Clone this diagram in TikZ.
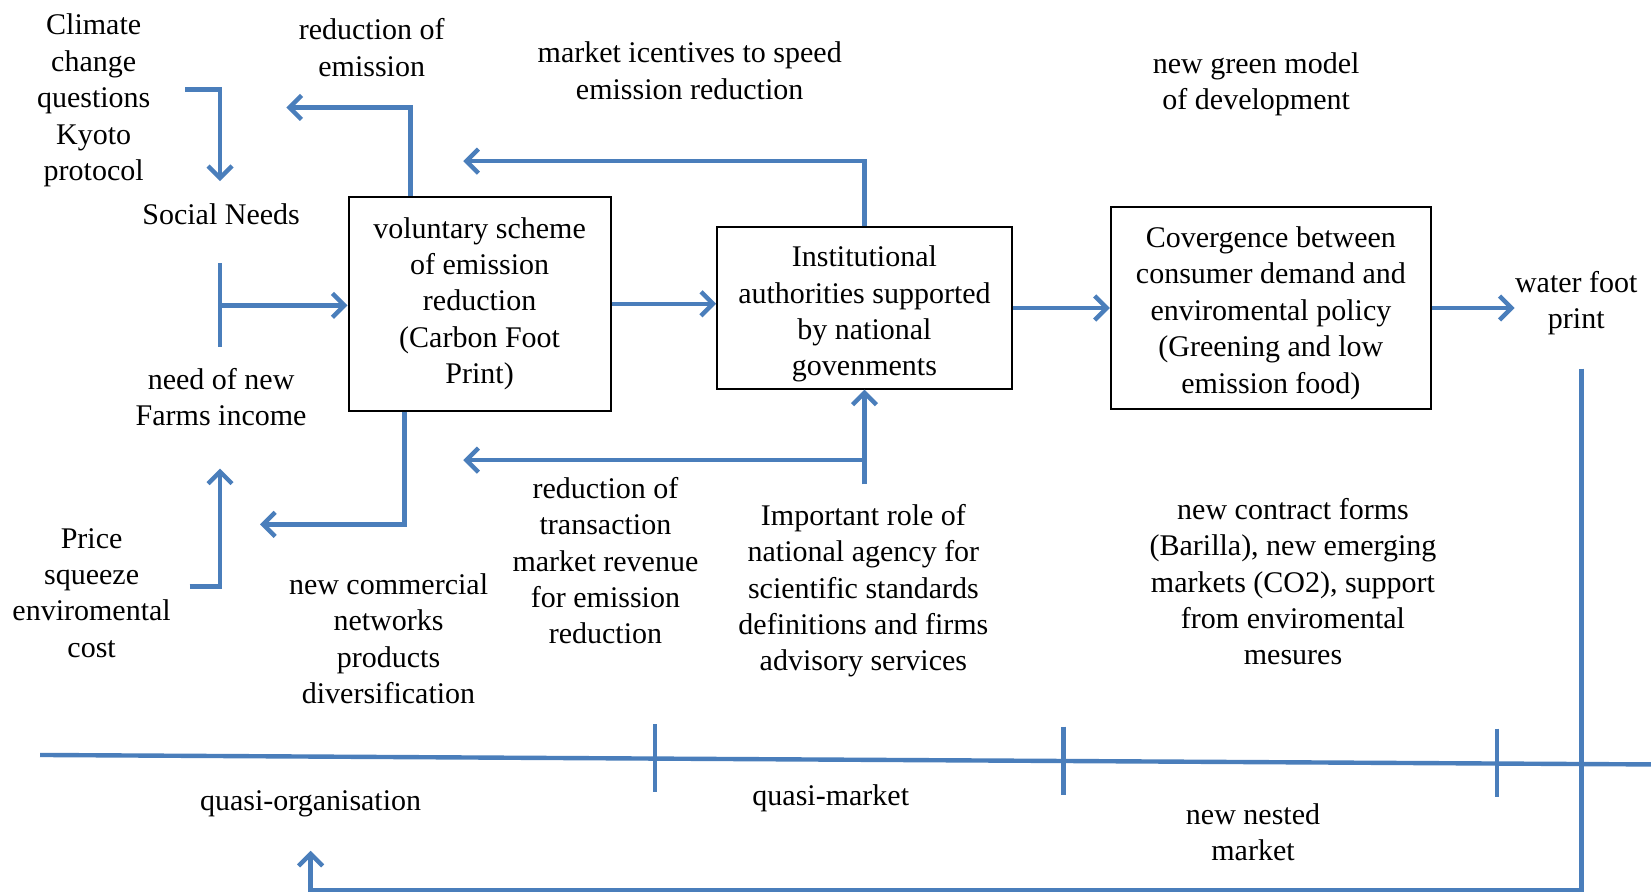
\documentclass[tikz,border=0pt]{standalone}
\usepackage{fontspec}
\setmainfont{Liberation Serif}
\usetikzlibrary{arrows.meta}
\definecolor{flowblue}{RGB}{74,126,187}
\newcommand\diagfont{\fontsize{15}{18.2}\selectfont}
\tikzset{
  flow/.style={draw=flowblue, line width=2.2pt, -{Straight Barb[length=6pt,width=12pt]}},
  bar/.style={draw=flowblue, line width=2.2pt},
  lbl/.style={align=center, font=\diagfont, inner sep=0pt},
  box/.style={draw, line width=1pt, align=center, inner sep=0pt, font=\diagfont}
}
\begin{document}
\begin{tikzpicture}[x=0.5265pt, y=-0.5265pt]
\useasboundingbox[fill=white] (0,0) rectangle (1568,848);

% text labels
\node[lbl] (climate) at (89,95.5) {Climate\\change\\questions\\Kyoto\\protocol};
\node[lbl] (social) at (210,203) {Social Needs};
\node[lbl] (redem) at (353,45) {reduction of\\emission};
\node[lbl] (market) at (655,67) {market icentives to speed\\emission reduction};
\node[lbl] (green) at (1193,80) {new green model\\of development};
\node[lbl] (water) at (1497,288) {water foot\\print};
\node[lbl] (need) at (210,377) {need of new\\Farms income};
\node[lbl] (transaction) at (575,532.5) {reduction of\\transaction\\market revenue\\for emission\\reduction};
\node[lbl] (role) at (820,561) {Important role of\\national agency for\\scientific standards\\definitions and firms\\advisory services};
\node[lbl] (contract) at (1228,552.5) {new contract forms\\(Barilla), new emerging\\markets (CO2), support\\from enviromental\\mesures};
\node[lbl] (price) at (87,563) {Price\\squeeze\\enviromental\\cost};
\node[lbl] (commercial) at (369,606.5) {new commercial\\networks\\products\\diversification};
\node[lbl] (qorg) at (295,763) {quasi-organisation};
\node[lbl] (qmkt) at (789,758) {quasi-market};
\node[lbl] (nested) at (1190,790.5) {new nested\\market};

% boxes
\node[box, minimum width=131.1pt, minimum height=106.9pt] (box1) at (455.5,288.5)
  {voluntary scheme\\of emission\\reduction\\(Carbon Foot\\Print)};
\node[box, minimum width=147.4pt, minimum height=80.6pt] (box2) at (821,292.5)
  {\rule{0pt}{16.5pt}Institutional\\authorities supported\\by national\\govenments};
\node[box, minimum width=160.1pt, minimum height=100.6pt] (box3) at (1207,292.5)
  {\rule{0pt}{15.5pt}Covergence between\\consumer demand and\\enviromental policy\\(Greening and low\\emission food)};

% coordinates
\coordinate (c1) at (176,85);
\coordinate (c1t) at (209,172);
\coordinate (e1) at (390,102);
\coordinate (e1t) at (272,102);
\coordinate (m1) at (821,153);
\coordinate (m1t) at (440,153);
\coordinate (b1) at (209,250);
\coordinate (b2) at (209,330);
\coordinate (b3) at (209,290);
\coordinate (d1) at (384,498);
\coordinate (d1t) at (247,498);
\coordinate (r0) at (821,460);
\coordinate (r1) at (821,437);
\coordinate (r1t) at (440,437);
\coordinate (p0) at (180,557);
\coordinate (p1) at (209,445);
\coordinate (t0) at (38,717);
\coordinate (t1) at (1568,726);
\coordinate (w0) at (1502,350);
\coordinate (w1) at (1502,845.5);
\coordinate (w2) at (295,808);

% connectors
\draw[flow] (c1) -| (c1t);
\draw[flow] (box1.north -| e1) -- (e1) -- (e1t);
\draw[flow] (box2.north) -- (m1) -- (m1t);
\draw[bar] (b1) -- (b2);
\draw[flow] (b3) -- (b3 -| box1.west);
\draw[flow] (box1.east) -- (box1.east -| box2.west);
\draw[flow] (box2.east) -- (box2.east -| box3.west);
\draw[flow] (box3.east) -- (box3.east -| water.west);
\draw[flow] (box1.south -| d1) -- (d1) -- (d1t);
\draw[flow] (r0) -- (box2.south);
\draw[flow] (r1) -- (r1t);
\draw[flow] (p0) -| (p1);

% timeline
\draw[bar] (t0) -- (t1);
\draw[bar] (622,688) -- (622,752);
\draw[bar] (1010,690) -- (1010,755);
\draw[bar] (1422,692) -- (1422,757);
\draw[flow] (w0) -- (w1) -| (w2);
\end{tikzpicture}
\end{document}
